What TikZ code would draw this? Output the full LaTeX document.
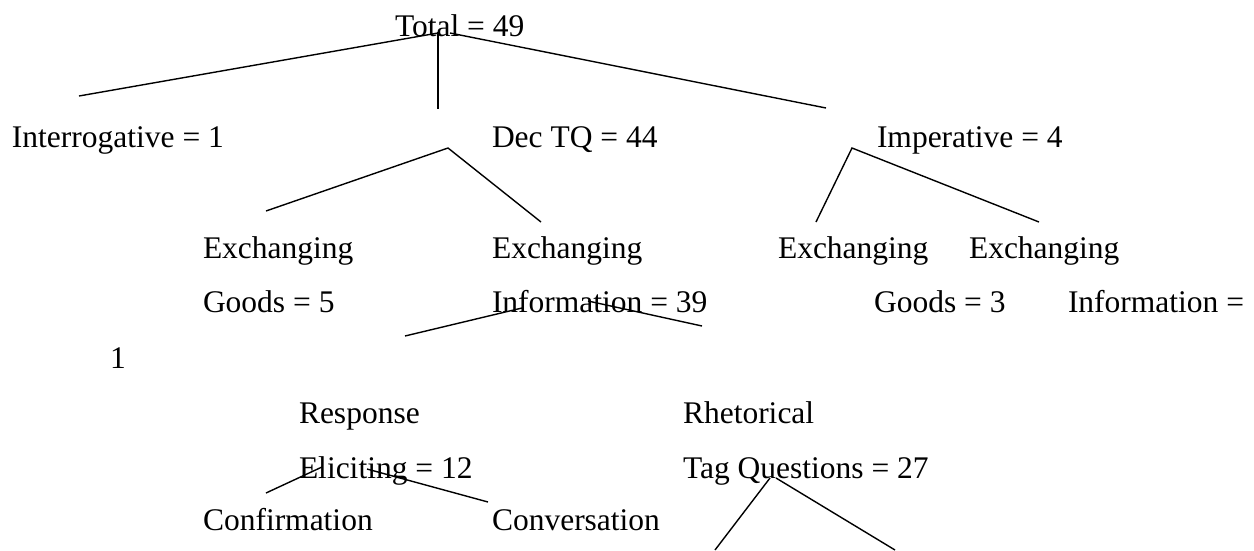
\documentclass[tikz,border=0pt]{standalone}
\usepackage{fontspec}
\setmainfont{Liberation Serif}
\newfontfamily\tnrfont{Liberation Serif}
\begin{document}
\begin{tikzpicture}[x=1pt,y=-1pt,
  lbl/.style={anchor=base west,inner sep=0pt,outer sep=0pt,font=\tnrfont\fontsize{31.5}{36}\selectfont},
  branch/.style={line width=1.4pt,line cap=butt}]
\useasboundingbox (0,0) rectangle (1254,550);
% text
\node[lbl] (total) at (395,36) {Total = 49};
\node[lbl] (interr) at (12,147) {Interrogative = 1};
\node[lbl] (dectq) at (492,147) {Dec TQ = 44};
\node[lbl] (imper) at (877,147) {Imperative = 4};
\node[lbl] (exg1) at (203,258) {Exchanging};
\node[lbl] (exi1) at (492,258) {Exchanging};
\node[lbl] (exg2) at (778,258) {Exchanging};
\node[lbl] (exi2) at (969,258) {Exchanging};
\node[lbl] (goods1) at (203,312) {Goods = 5};
\node[lbl] (info1) at (492,312) {Information = 39};
\node[lbl] (goods2) at (874,312) {Goods = 3};
\node[lbl] (info2) at (1068,312) {Information =};
\node[lbl] (one) at (110,368) {1};
\node[lbl] (resp) at (299,423) {Response};
\node[lbl] (rhet) at (683,423) {Rhetorical};
\node[lbl] (elic) at (299,478) {Eliciting = 12};
\node[lbl] (tagq) at (683,478) {Tag Questions = 27};
\node[lbl] (conf) at (203,530) {Confirmation};
\node[lbl] (conv) at (492,530) {Conversation};
% line end points
\coordinate (tAL) at (438,33);
\coordinate (tL) at (79,96);
\coordinate (tVt) at (438,32);
\coordinate (tVb) at (438,109);
\coordinate (tAR) at (450,33);
\coordinate (tR) at (826,108);
\coordinate (dA) at (448,148);
\coordinate (dL) at (266,211);
\coordinate (dR) at (541,222);
\coordinate (iA) at (852,148);
\coordinate (iL) at (816,222);
\coordinate (iR) at (1039,222);
\coordinate (nAL) at (522,308);
\coordinate (nL) at (405,336);
\coordinate (nAR) at (588,301);
\coordinate (nR) at (702,326);
\coordinate (eAL) at (322,467);
\coordinate (eL) at (266,493);
\coordinate (eAR) at (367,469);
\coordinate (eR) at (488,502);
\coordinate (qAL) at (770,478);
\coordinate (qL) at (715,550);
\coordinate (qAR) at (776,478);
\coordinate (qR) at (895,550);
% branches
\draw[branch] (tL) -- (tAL);
\draw[branch] (tVt) -- (tVb);
\draw[branch] (tAR) -- (tR);
\draw[branch] (dL) -- (dA) -- (dR);
\draw[branch] (iL) -- (iA) -- (iR);
\draw[branch] (nL) -- (nAL);
\draw[branch] (nAR) -- (nR);
\draw[branch] (eL) -- (eAL);
\draw[branch] (eAR) -- (eR);
\draw[branch] (qL) -- (qAL);
\draw[branch] (qAR) -- (qR);
\end{tikzpicture}
\end{document}
